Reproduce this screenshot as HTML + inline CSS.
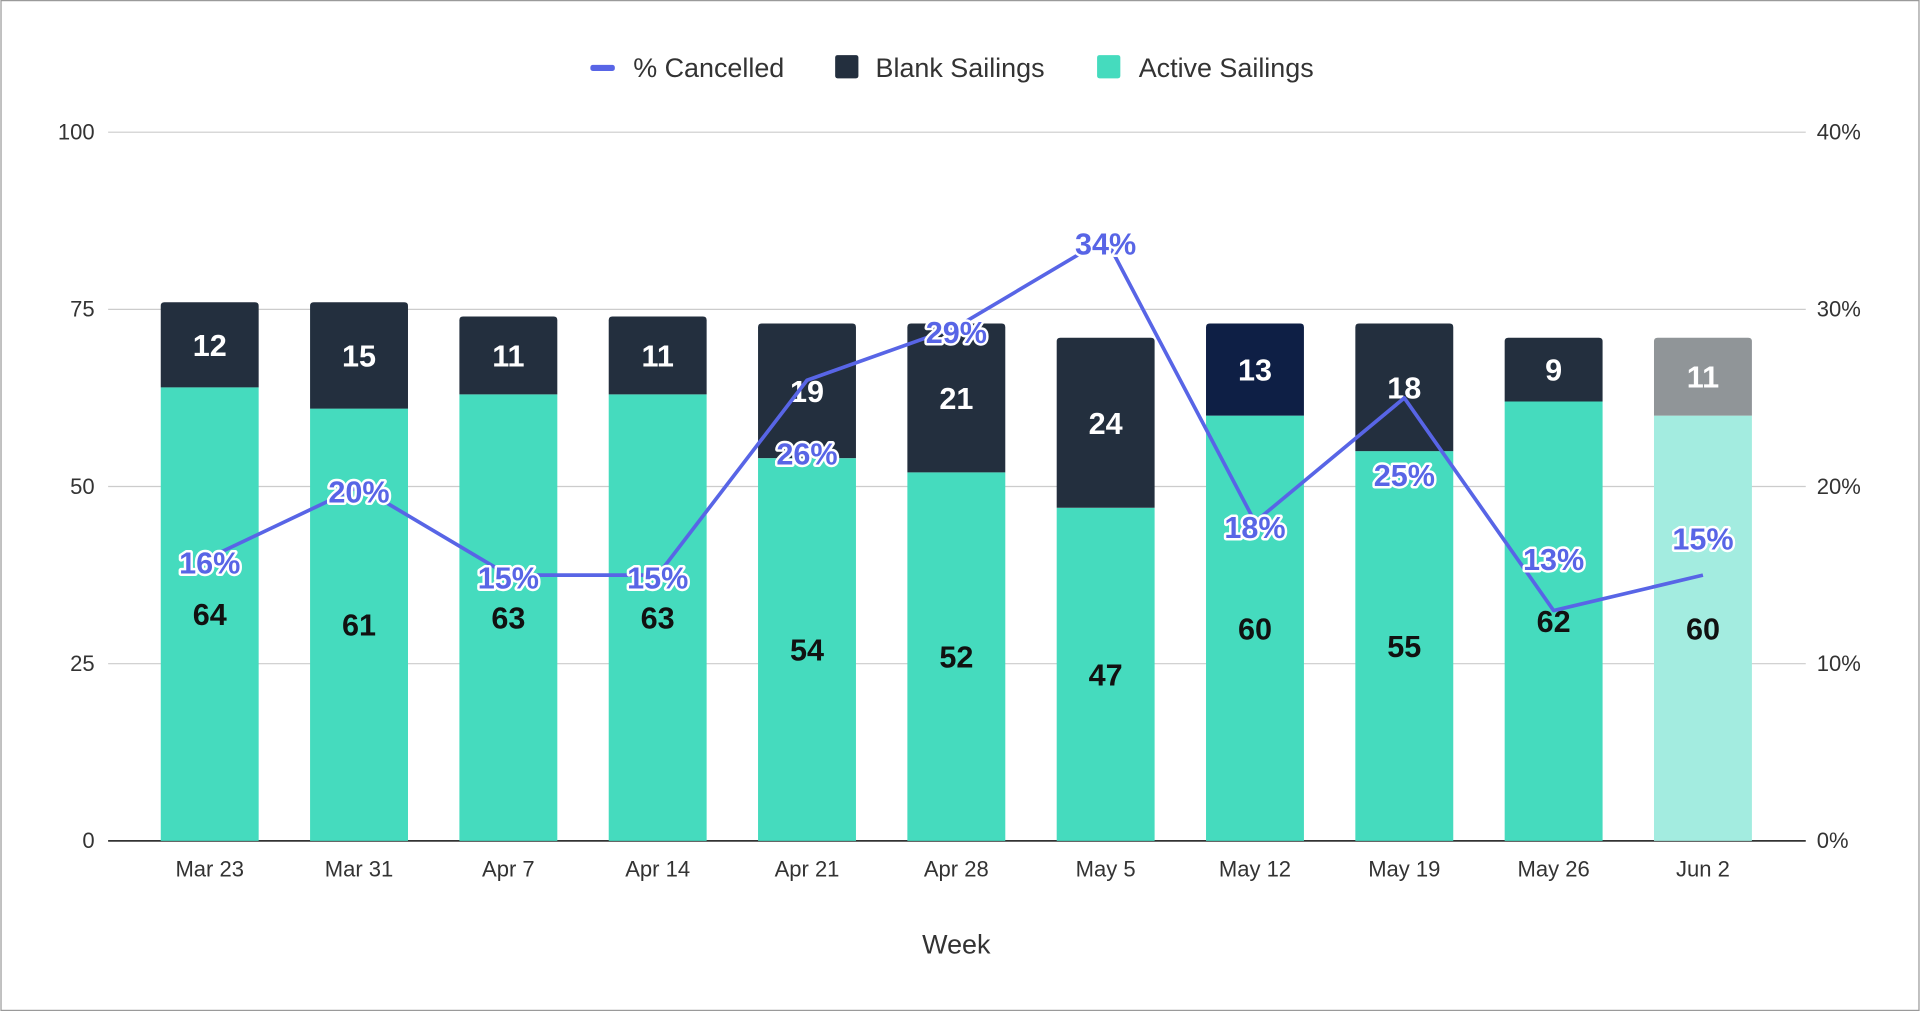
<!DOCTYPE html>
<html><head><meta charset="utf-8"><style>
html,body{margin:0;padding:0;background:#fff;}
svg{display:block;font-family:"Liberation Sans",sans-serif;}
</style></head><body>
<svg id="chart" width="1920" height="1011" viewBox="0 0 1568 826" xmlns="http://www.w3.org/2000/svg">
<rect x="0.5" y="0.5" width="1567" height="825" fill="#fff" stroke="#9a9a9a"/>
<g id="grid"></g><g id="bars"></g><g id="line"></g><g id="axes"></g>
<g>
<g><rect x="482" y="53" width="20" height="5" rx="2" fill="#5865e6"/><text x="517" y="63" font-size="22" fill="#333">% Cancelled</text></g>
<g><rect x="682" y="45" width="19" height="19" rx="2" fill="#232f3e"/><text x="715" y="63" font-size="22" fill="#333">Blank Sailings</text></g>
<g><rect x="896" y="45" width="19" height="19" rx="2" fill="#45dbbe"/><text x="930" y="63" font-size="22" fill="#333">Active Sailings</text></g>
</g>
<text x="781" y="779" font-size="22" fill="#333" text-anchor="middle">Week</text>
</svg>
<script>
const categories=["Mar 23","Mar 31","Apr 7","Apr 14","Apr 21","Apr 28","May 5","May 12","May 19","May 26","Jun 2"];
const activeVals=[64,61,63,63,54,52,47,60,55,62,60];
const blankVals=[12,15,11,11,19,21,24,13,18,9,11];
const pctVals=[16,20,15,15,26,29,34,18,25,13,15];
const leftTicks=[0,25,50,75,100];
const rightTicks=["0%","10%","20%","30%","40%"];
const NS="http://www.w3.org/2000/svg";
const X0=88,X1=1475,Y0=687,Y1=108;
const yL=v=>Y0-(v/100)*(Y0-Y1);
const yR=p=>Y0-(p/40)*(Y0-Y1);
const xC=i=>171+i*122;
const BW=80;
function mk(tag,attrs,parent,txt){const e=document.createElementNS(NS,tag);for(const k in attrs)e.setAttribute(k,attrs[k]);if(txt!==undefined)e.textContent=txt;parent.appendChild(e);return e;}
const grid=document.getElementById('grid'),bars=document.getElementById('bars'),line=document.getElementById('line'),axes=document.getElementById('axes');
leftTicks.forEach((t,i)=>{
  const y=yL(t);
  const g=mk('line',{x1:X0,x2:X1,y1:y,y2:y,stroke:t===0?'#333':'#ccc','stroke-width':t===0?1.5:1},grid);
  
  
  const l=mk('text',{x:77,y:y+6,'font-size':18,fill:'#333','text-anchor':'end'},axes,String(t));
  
  
  const r=mk('text',{x:1484,y:y+6,'font-size':18,fill:'#333'},axes,rightTicks[i]);
  
  
});
function topRounded(x,y,w,h,r){return `M${x},${y+h}V${y+r}Q${x},${y} ${x+r},${y}H${x+w-r}Q${x+w},${y} ${x+w},${y+r}V${y+h}Z`;}
categories.forEach((c,i)=>{
  const cx=xC(i),x=cx-BW/2;
  const last=i===categories.length-1;
  const aTop=yL(activeVals[i]),bTop=yL(activeVals[i]+blankVals[i]);
  const a=mk('rect',{x:x,y:aTop,width:BW,height:Y0-aTop,fill:last?'#a3ece0':'#45dbbe'},bars);
  
  
  const b=mk('path',{d:topRounded(x,bTop,BW,aTop-bTop,3),fill:last?'#909598':(c==="May 12"?'#0e1f45':'#232f3e')},bars);
  
  
  const bl=mk('text',{x:cx,y:(aTop+bTop)/2+9,'font-size':25,'font-weight':'bold',fill:'#fff','text-anchor':'middle'},bars,String(blankVals[i]));
  
  
  const al=mk('text',{x:cx,y:(aTop+Y0)/2+9,'font-size':25,'font-weight':'bold',fill:'#111','text-anchor':'middle'},bars,String(activeVals[i]));
  
  
  const xl=mk('text',{x:cx,y:716,'font-size':18,fill:'#333','text-anchor':'middle'},axes,c);
  
  
});
const pts=pctVals.map((p,i)=>xC(i)+','+yR(p)).join(' ');
const pl=mk('polyline',{points:pts,fill:'none',stroke:'#5865e6','stroke-width':3,'stroke-linejoin':'round'},line);


const labelShift=[4,4,2,2,60,4,4,4,63,-42,-30];
pctVals.forEach((p,i)=>{
  const t=mk('text',{x:xC(i),y:yR(p)+labelShift[i]+9,'font-size':25,'font-weight':'bold',fill:'#5865e6',stroke:'#fff','stroke-width':4,'paint-order':'stroke','stroke-linejoin':'round','text-anchor':'middle'},line,p+'%');
  
  
});
</script>
</body></html>
